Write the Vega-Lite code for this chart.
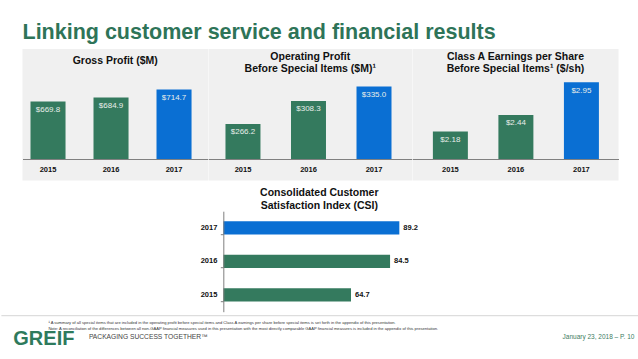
{
  "$schema": "https://vega.github.io/schema/vega-lite/v6.json",
  "background": "white",
  "padding": {"left": 0, "right": 0, "top": 22, "bottom": 0},
  "config": {
    "font": "Liberation Sans",
    "view": {"stroke": null}
  },
  "datasets": {
    "gross": [{"year": "2015", "value": 669.8}, {"year": "2016", "value": 684.9}, {"year": "2017", "value": 714.7}],
    "op": [{"year": "2015", "value": 266.2}, {"year": "2016", "value": 308.3}, {"year": "2017", "value": 335.0}],
    "eps": [{"year": "2015", "value": 2.18}, {"year": "2016", "value": 2.44}, {"year": "2017", "value": 2.95}],
    "csi": [{"year": "2015", "value": 64.7}, {"year": "2016", "value": 84.5}, {"year": "2017", "value": 89.2}],
    "footer": [
      {"part": "notes", "text": "¹ A summary of all special items that are included in the operating profit before special items and Class A earnings per share before special items is set forth in the appendix of this presentation.\nNote: A reconciliation of the differences between all non-GAAP financial measures used in this presentation with the most directly comparable GAAP financial measures is included in the appendix of this presentation."},
      {"part": "logo", "text": "GREIF"},
      {"part": "tag", "text": "PACKAGING SUCCESS TOGETHER™"},
      {"part": "date", "text": "January 23, 2018 – P. 10"}
    ]
  },
  "vconcat": [
    {
      "title": {"text": "Linking customer service and financial results", "anchor": "start", "fontSize": 21.5, "fontWeight": "bold", "color": "#2e7458", "offset": 5.5},
      "spacing": 0,
      "hconcat": [
        {
          "width": 185.5, "height": 131.6,
          "view": {"fill": "#f0f0f0", "stroke": null},
          "title": {"text": "Gross Profit ($M)", "fontSize": 10.5, "fontWeight": "bold", "color": "#111111", "offset": -17},
          "data": {"name": "gross"},
          "encoding": {
            "x": {"field": "year", "type": "ordinal", "scale": {"paddingInner": 0.444, "paddingOuter": 0.194, "align": 0.327},
              "axis": {"title": null, "labelAngle": 0, "offset": -21.6, "domainColor": "#808080", "ticks": false, "tickSize": 0, "labelPadding": 6, "labelFontSize": 7.5, "labelFontWeight": "bold", "labelColor": "#111111", "zindex": 1}}
          },
          "layer": [
            {"mark": {"type": "bar"},
             "encoding": {
               "y": {"field": "value", "type": "quantitative", "scale": {"domain": [374.2, 866.6], "zero": false, "nice": false}, "axis": null},
               "y2": {"datum": 455},
               "color": {"field": "year", "type": "nominal", "scale": {"domain": ["2015", "2016", "2017"], "range": ["#347a5e", "#347a5e", "#0a6fd3"]}, "legend": null}
             }},
            {"mark": {"type": "text", "baseline": "top", "dy": 4.3, "fontSize": 8, "color": "#e8eeea"},
             "encoding": {
               "y": {"field": "value", "type": "quantitative"},
               "text": {"field": "value", "type": "quantitative", "format": "$.1f"}
             }}
          ]
        },
        {
          "width": 203.5, "height": 131.6,
          "view": {"fill": "#f0f0f0", "stroke": null},
          "title": {"text": ["Operating Profit", "Before Special Items ($M)¹"], "fontSize": 10.5, "fontWeight": "bold", "color": "#111111", "lineHeight": 12, "offset": -25.3},
          "data": {"name": "op"},
          "encoding": {
            "x": {"field": "year", "type": "ordinal", "scale": {"paddingInner": 0.466, "paddingOuter": 0.286, "align": 0.453},
              "axis": {"title": null, "labelAngle": 0, "offset": -21.6, "domainColor": "#808080", "ticks": false, "tickSize": 0, "labelPadding": 6, "labelFontSize": 7.5, "labelFontWeight": "bold", "labelColor": "#111111", "zindex": 1}}
          },
          "layer": [
            {"mark": {"type": "bar"},
             "encoding": {
               "y": {"field": "value", "type": "quantitative", "scale": {"domain": [162.4, 403.9], "zero": false, "nice": false}, "axis": null},
               "y2": {"datum": 202},
               "color": {"field": "year", "type": "nominal", "scale": {"domain": ["2015", "2016", "2017"], "range": ["#347a5e", "#347a5e", "#0a6fd3"]}, "legend": null}
             }},
            {"mark": {"type": "text", "baseline": "top", "dy": 4.3, "fontSize": 8, "color": "#e8eeea"},
             "encoding": {
               "y": {"field": "value", "type": "quantitative"},
               "text": {"field": "value", "type": "quantitative", "format": "$.1f"}
             }}
          ]
        },
        {
          "width": 206, "height": 131.6,
          "view": {"fill": "#f0f0f0", "stroke": null},
          "title": {"text": ["Class A Earnings per Share", "Before Special Items¹ ($/sh)"], "fontSize": 10.5, "fontWeight": "bold", "color": "#111111", "lineHeight": 12, "offset": -25.3},
          "data": {"name": "eps"},
          "encoding": {
            "x": {"field": "year", "type": "ordinal", "scale": {"paddingInner": 0.466, "paddingOuter": 0.305, "align": 0.51},
              "axis": {"title": null, "labelAngle": 0, "offset": -21.6, "domainColor": "#808080", "ticks": false, "tickSize": 0, "labelPadding": 6, "labelFontSize": 7.5, "labelFontWeight": "bold", "labelColor": "#111111", "zindex": 1}}
          },
          "layer": [
            {"mark": {"type": "bar"},
             "encoding": {
               "y": {"field": "value", "type": "quantitative", "scale": {"domain": [1.4147, 3.47], "zero": false, "nice": false}, "axis": null},
               "y2": {"datum": 1.752},
               "color": {"field": "year", "type": "nominal", "scale": {"domain": ["2015", "2016", "2017"], "range": ["#347a5e", "#347a5e", "#0a6fd3"]}, "legend": null}
             }},
            {"mark": {"type": "text", "baseline": "top", "dy": 4.3, "fontSize": 8, "color": "#e8eeea"},
             "encoding": {
               "y": {"field": "value", "type": "quantitative"},
               "text": {"field": "value", "type": "quantitative", "format": "$.2f"}
             }}
          ]
        }
      ]
    },
    {
      "vconcat": [
        {
          "width": 192, "height": 100.5,
          "title": {"text": ["Consolidated Customer", "Satisfaction Index (CSI)"], "fontSize": 10.5, "fontWeight": "bold", "color": "#111111", "lineHeight": 12.7, "offset": 0},
          "data": {"name": "csi"},
          "encoding": {
            "y": {"field": "year", "type": "ordinal", "sort": "descending", "scale": {"paddingInner": 0.603, "paddingOuter": 0.3015},
              "axis": {"title": null, "domainColor": "#7f7f7f", "tickColor": "#7f7f7f", "tickSize": 3, "bandPosition": 1, "labelPadding": 3.5, "labelFontSize": 7.5, "labelFontWeight": "bold", "labelColor": "#111111", "zindex": 1}}
          },
          "layer": [
            {"mark": {"type": "bar"},
             "encoding": {
               "x": {"field": "value", "type": "quantitative", "scale": {"domain": [0, 97.3], "nice": false}, "axis": null},
               "color": {"field": "year", "type": "nominal", "scale": {"domain": ["2015", "2016", "2017"], "range": ["#347a5e", "#347a5e", "#0a6fd3"]}, "legend": null}
             }},
            {"mark": {"type": "text", "align": "left", "dx": 4, "fontSize": 7.5, "fontWeight": "bold", "color": "#111111"},
             "encoding": {
               "x": {"field": "value", "type": "quantitative"},
               "text": {"field": "value", "type": "quantitative", "format": ".1f"}
             }}
          ]
        },
        {
          "bounds": "flush",
          "spacing": 0,
          "vconcat": [
            {
              "width": 638, "height": 1,
              "data": {"name": "footer"},
              "transform": [{"filter": "datum.part === 'logo'"}],
              "mark": {"type": "rule", "color": "#d6d6d6", "strokeWidth": 1},
              "encoding": {"y": {"datum": 0, "type": "quantitative", "scale": {"domain": [0, 1]}, "axis": null}}
            },
            {
              "width": 94, "height": 14,
              "data": {"name": "footer"},
              "transform": [{"filter": "datum.part === 'notes'"}],
              "mark": {"type": "text", "align": "left", "baseline": "middle", "fontSize": 4.1, "lineHeight": 6.7, "lineBreak": "\n", "color": "#333333"},
              "encoding": {"text": {"field": "text", "type": "nominal"}}
            },
            {
              "bounds": "flush",
              "spacing": 0,
              "hconcat": [
                {
                  "width": 85, "height": 14,
                  "data": {"name": "footer"},
                  "transform": [{"filter": "datum.part === 'logo'"}],
                  "mark": {"type": "text", "align": "center", "baseline": "middle", "dy": 2, "fontSize": 20, "fontWeight": "bold", "color": "#2e7a5c"},
                  "encoding": {"text": {"field": "text", "type": "nominal"}}
                },
                {
                  "width": 5, "height": 14,
                  "data": {"name": "footer"},
                  "transform": [{"filter": "datum.part === 'tag'"}],
                  "mark": {"type": "text", "align": "left", "baseline": "middle", "fontSize": 6.7, "color": "#444444"},
                  "encoding": {"text": {"field": "text", "type": "nominal"}}
                },
                {
                  "width": 543, "height": 14,
                  "data": {"name": "footer"},
                  "transform": [{"filter": "datum.part === 'date'"}],
                  "mark": {"type": "text", "align": "right", "baseline": "middle", "fontSize": 6.5, "color": "#3d7d63"},
                  "encoding": {"x": {"value": "width"}, "text": {"field": "text", "type": "nominal"}}
                }
              ]
            }
          ]
        }
      ],
      "spacing": 2.5,
      "center": true
    }
  ],
  "spacing": 6.2,
  "center": true
}
